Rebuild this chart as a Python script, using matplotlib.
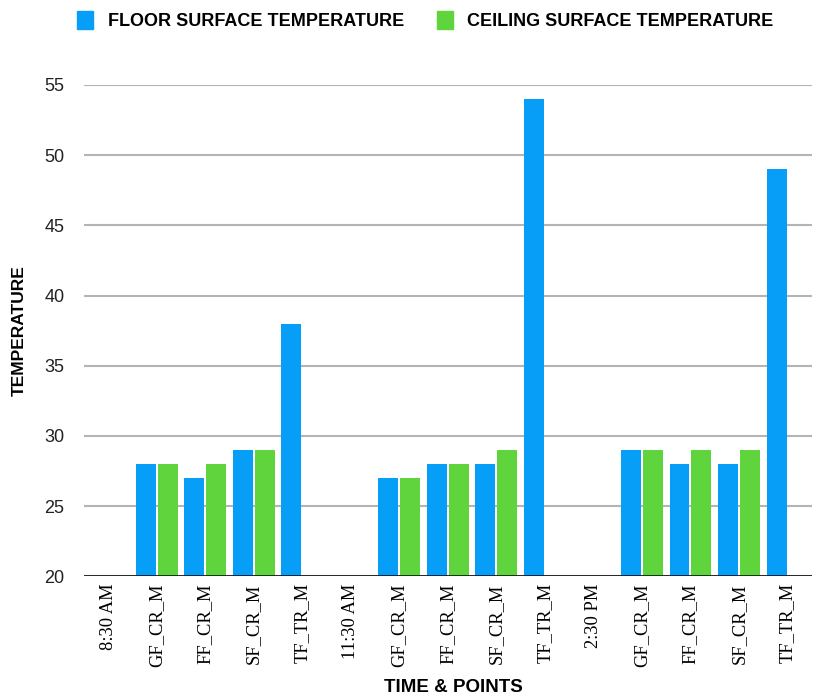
import numpy as np
import matplotlib
matplotlib.use('Agg')
from matplotlib import pyplot as plt
from matplotlib.patches import Patch

# categories along x (time stamps carry no bars)
categories = ['8:30 AM', 'GF_CR_M', 'FF_CR_M', 'SF_CR_M', 'TF_TR_M',
              '11:30 AM', 'GF_CR_M', 'FF_CR_M', 'SF_CR_M', 'TF_TR_M',
              '2:30 PM', 'GF_CR_M', 'FF_CR_M', 'SF_CR_M', 'TF_TR_M']
floor_temp = [np.nan, 28, 27, 29, 38,
              np.nan, 27, 28, 28, 54,
              np.nan, 29, 28, 28, 49]
ceiling_temp = [np.nan, 28, 28, 29, np.nan,
                np.nan, 27, 28, 29, np.nan,
                np.nan, 29, 29, 29, np.nan]

blue = '#079ef7'
green = '#5fd43c'

plt.rcParams['font.family'] = ['Liberation Sans', 'DejaVu Sans']
fig = plt.figure(figsize=(8.15, 6.96), dpi=100)
ax = fig.add_axes([0.103, 0.172, 0.893, 0.706])

x = np.arange(len(categories))
w = 0.41
ax.bar(x - 0.225, floor_temp, width=w, color=blue, zorder=3)
ax.bar(x + 0.225, ceiling_temp, width=w, color=green, zorder=3)

ax.set_ylim(20, 55)
ax.set_xlim(-0.5, len(categories) - 0.5)
ax.set_yticks(range(20, 56, 5))
ax.yaxis.grid(True, color='#b4b4b4', linewidth=1.5, zorder=0)
ax.axhline(20, color='black', linewidth=1.8, zorder=4)
for s in ax.spines.values():
    s.set_visible(False)
ax.tick_params(axis='both', length=0)
ax.tick_params(axis='y', labelsize=13, pad=14, labelcolor='#222222')

ax.set_xticks(x)
ax.set_xticklabels(categories, rotation=90, family='Liberation Serif',
                   fontsize=13.3, va='top')
ax.tick_params(axis='x', pad=5)

ax.set_ylabel('TEMPERATURE', fontsize=12.5, fontweight='bold')
ax.yaxis.set_label_coords(-0.078, 0.5)
fig.text(0.556, 0.0, 'TIME & POINTS', fontsize=13.5, fontweight='bold',
         ha='center', va='bottom')

handles = [Patch(color=blue, label='FLOOR SURFACE TEMPERATURE'),
           Patch(color=green, label='CEILING SURFACE TEMPERATURE')]
fig.legend(handles=handles, loc='upper center', bbox_to_anchor=(0.522, 1.007),
           ncol=2, frameon=False, prop={'weight': 'bold', 'size': 13},
           handlelength=0.9, handleheight=1.1, handletextpad=0.8,
           columnspacing=1.8)

fig.savefig('out.png', dpi=100)
